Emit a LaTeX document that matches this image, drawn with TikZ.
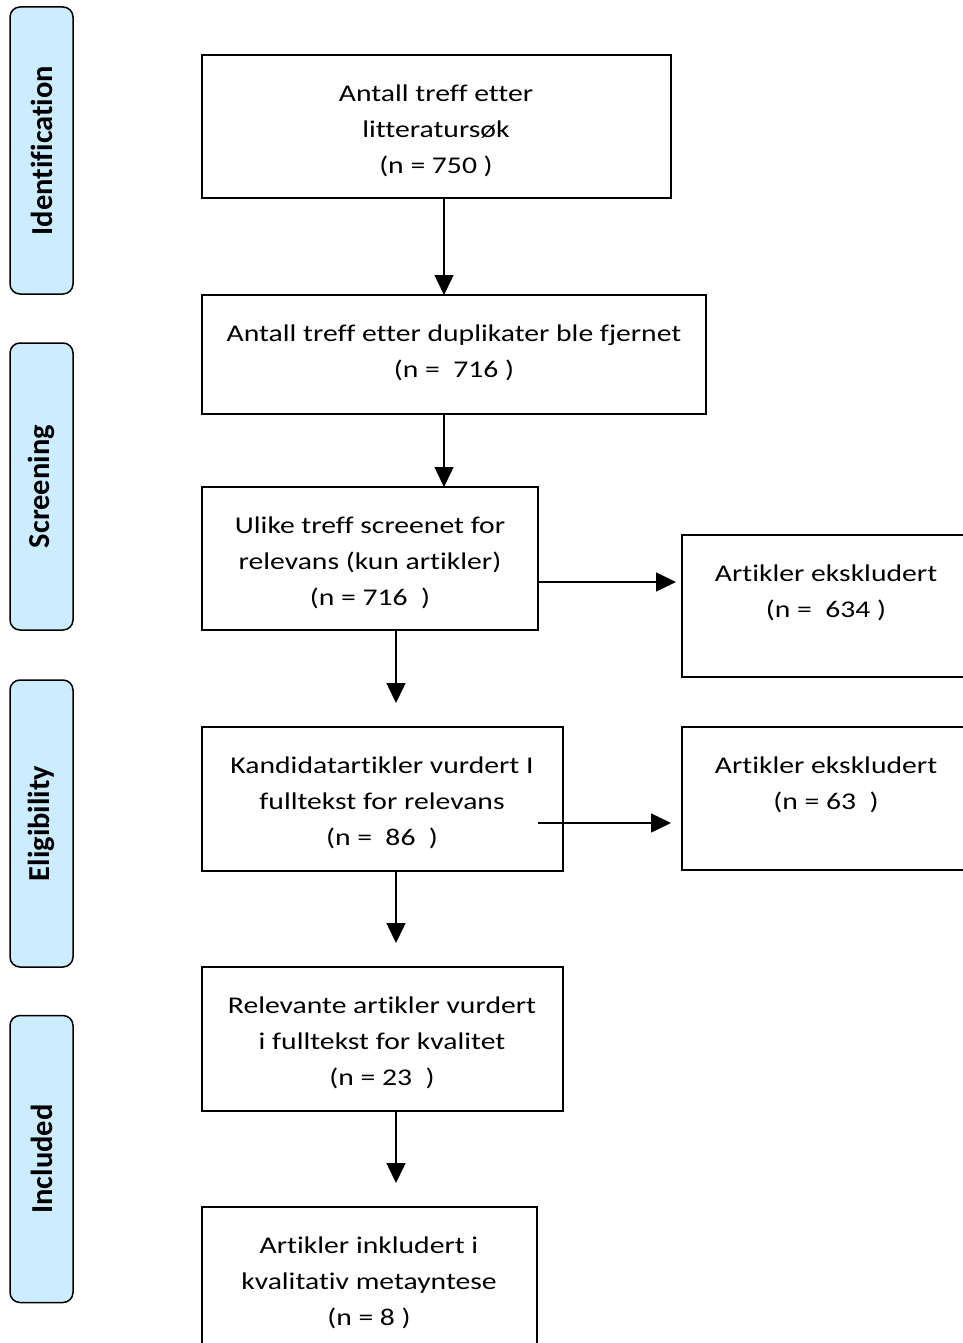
\documentclass[tikz,border=0pt]{standalone}
\usepackage{fontspec}
\setmainfont{Carlito}[Ligatures=NoCommon]
\newfontfamily\widefont{Carlito}[FakeStretch=1.235, Ligatures=NoCommon]
\usetikzlibrary{arrows.meta}
\definecolor{phaseblue}{RGB}{204,236,255}
\begin{document}
\begin{tikzpicture}[x=1pt,y=-1pt,
  box/.style={draw, line width=1.5pt, inner sep=0pt, outer sep=0pt},
  txt/.style={font=\widefont\fontsize{24}{36}\selectfont, align=center, inner sep=0pt},
  phase/.style={draw, line width=1.5pt, fill=phaseblue, rounded corners=10pt, inner sep=0pt, outer sep=0pt, minimum width=63pt, minimum height=287pt},
  phasetxt/.style={font=\bfseries\fontsize{30.5}{34}\selectfont, rotate=90, inner sep=0pt},
  arr/.style={-{Triangle[length=20pt,width=19pt]}, line width=1.5pt}]
\useasboundingbox (0,0) rectangle (963,1343);
% phase bars
\node[phase] (p1) at (41.5,150.5) {};
\node[phase] (p2) at (41.5,486.5) {};
\node[phase] (p3) at (41.5,823.5) {};
\node[phase] (p4) at (41.5,1159) {};
\node[phasetxt] (pt1) at (p1) {Identification};
\node[phasetxt] (pt2) at (p2) {Screening};
\node[phasetxt] (pt3) at (p3) {Eligibility};
\node[phasetxt] (pt4) at (p4) {Included};
% boxes
\node[box, minimum width=469pt, minimum height=143pt] (b1) at (436.5,126.5) {};
\node[box, minimum width=504pt, minimum height=119pt] (b2) at (454,354.5) {};
\node[box, minimum width=336pt, minimum height=143pt] (b3) at (370,558.5) {};
\node[box, minimum width=308pt, minimum height=142pt] (r1) at (836,606) {};
\node[box, minimum width=361pt, minimum height=144pt] (b4) at (382.5,799) {};
\node[box, minimum width=308pt, minimum height=143pt] (r2) at (836,798.5) {};
\node[box, minimum width=361pt, minimum height=144pt] (b5) at (382.5,1039) {};
\node[box, minimum width=335pt, minimum height=163pt] (b6) at (369.5,1288.5) {};
% texts
\node[txt] (t1) at (436,131) {Antall treff etter\\litteraturs\o k\\(n = 750 )};
\node[txt] (t2) at (454,353) {Antall treff etter duplikater ble fjernet\\(n = \ 716 )};
\node[txt] (t3) at (370,563) {Ulike treff screenet for\\relevans (kun artikler)\\(n = 716 \ )};
\node[txt] (tr1) at (826,593) {Artikler ekskludert\\(n = \ 634 )};
\node[txt] (t4) at (382,803) {Kandidatartikler vurdert I\\fulltekst for relevans\\(n = \ 86 \ )};
\node[txt] (tr2) at (826,785) {Artikler ekskludert\\(n = 63 \ )};
\node[txt] (t5) at (382,1043) {Relevante artikler vurdert\\i fulltekst for kvalitet\\(n = 23 \ )};
\node[txt] (t6) at (369,1283) {Artikler inkludert i\\kvalitativ metayntese\\(n = 8 )};
% free ends
\coordinate (c1) at (444,0);
\coordinate (c3) at (396,0);
\coordinate (e3) at (396,703);
\coordinate (e4) at (396,943);
\coordinate (e5) at (396,1183);
\coordinate (er1) at (676,582);
\coordinate (sr2) at (538,823);
\coordinate (er2) at (671,823);
% arrows
\draw[arr] (b1.south -| c1) -- (b2.north -| c1);
\draw[arr] (b2.south -| c1) -- (b3.north -| c1);
\draw[arr] (b3.south -| c3) -- (e3);
\draw[arr] (b4.south -| c3) -- (e4);
\draw[arr] (b5.south -| c3) -- (e5);
\draw[arr] (b3.east |- er1) -- (er1);
\draw[arr] (sr2) -- (er2);
\end{tikzpicture}
\end{document}
